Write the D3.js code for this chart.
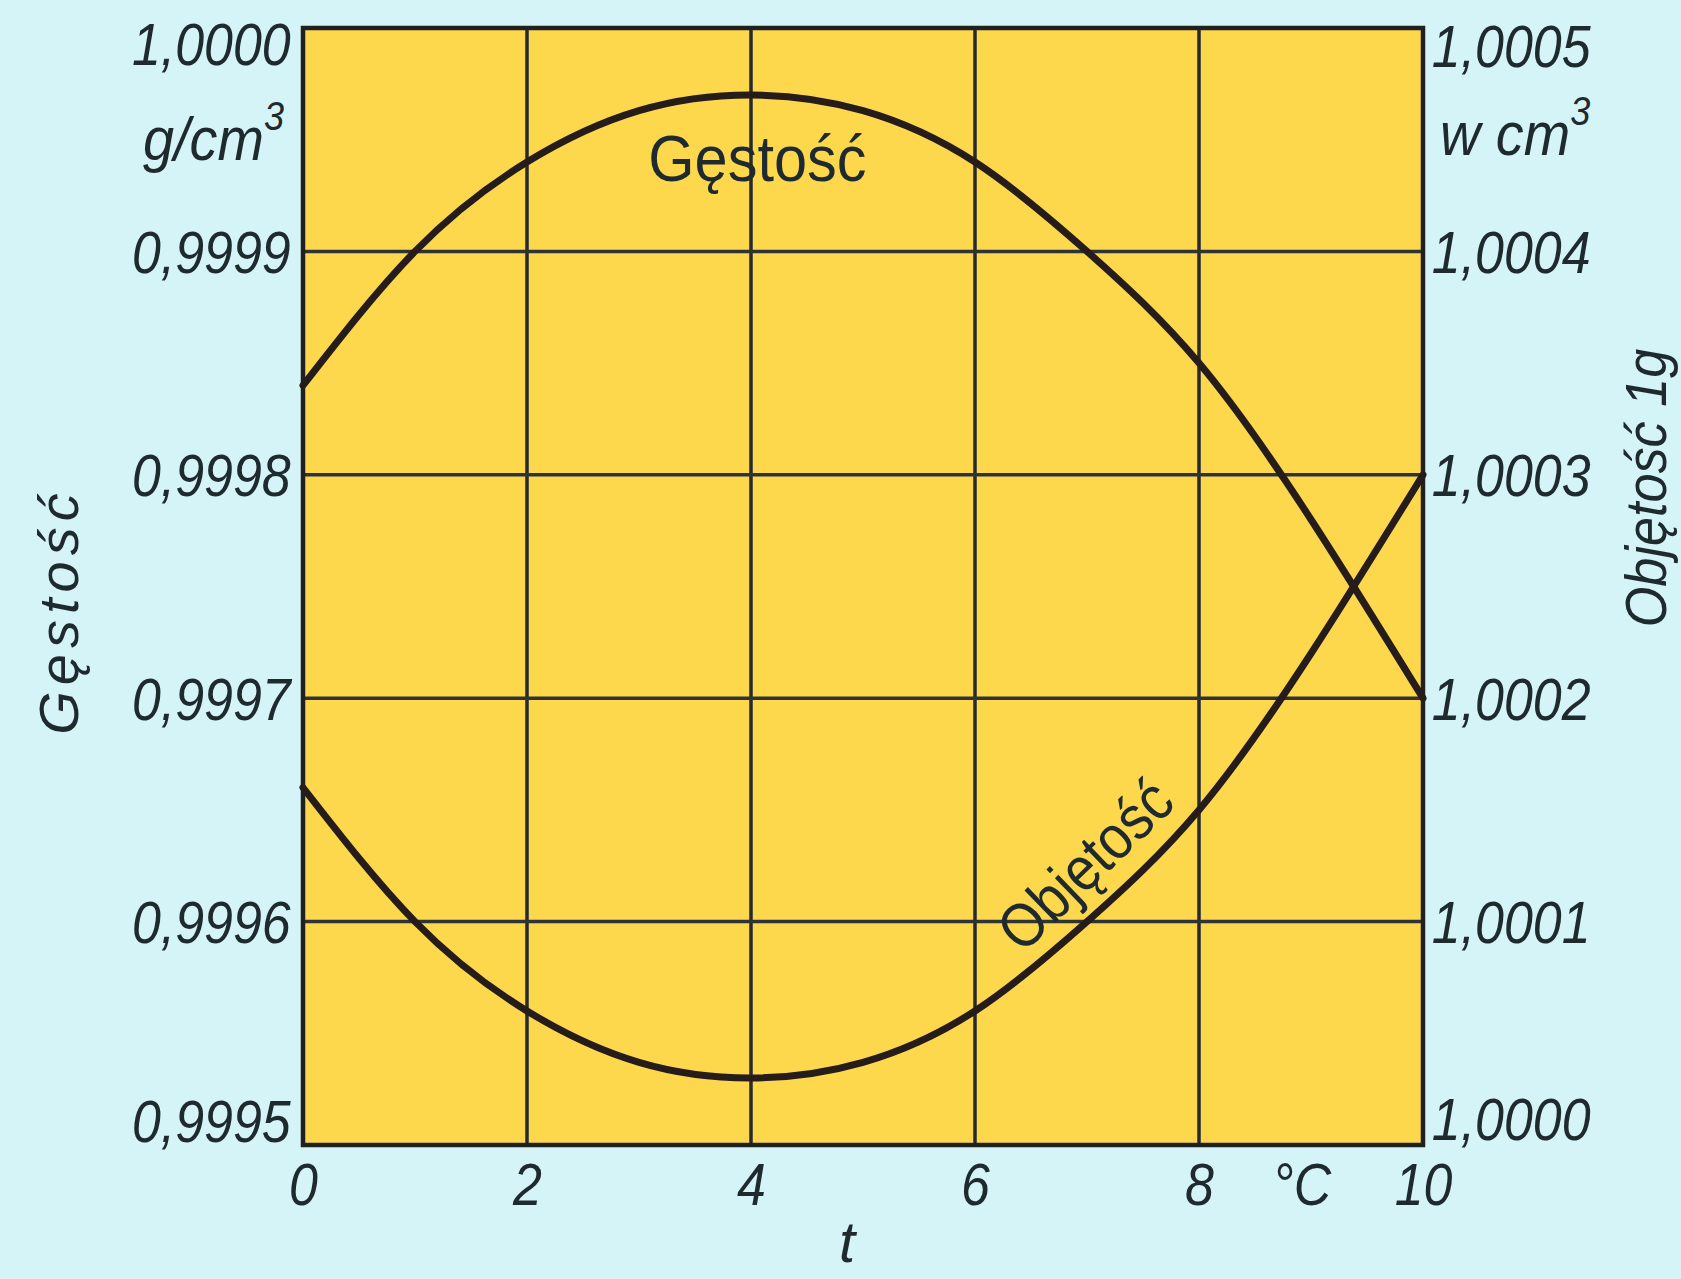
<!DOCTYPE html>
<html>
<head>
<meta charset="utf-8">
<script src="https://cdn.jsdelivr.net/npm/d3@7"></script>
<style>
  body { margin: 0; background: #d5f4f7; }
  svg text { font-family: "Liberation Sans", "DejaVu Sans", sans-serif; fill: #1f2a2e; }
</style>
</head>
<body>
<div id="chart"></div>
<script>
// temperatura, °C
const temps = [0, 1, 2, 3, 4, 5, 6, 7, 8, 9, 10];
// gęstość wody, g/cm3 (lewa oś)
const density = [0.99984, 0.99990, 0.99994, 0.999963, 0.99997, 0.999963, 0.99994, 0.99990, 0.99985, 0.99978, 0.99970];
// objętość 1 g wody, cm3 (prawa oś)
const volume = [1.00016, 1.00010, 1.00006, 1.000037, 1.00003, 1.000037, 1.00006, 1.00010, 1.00015, 1.00022, 1.00030];

const xTicks = [0, 2, 4, 6, 8, 10];
const leftTicks = [0.9995, 0.9996, 0.9997, 0.9998, 0.9999, 1.0000];
const rightTicks = [1.0000, 1.0001, 1.0002, 1.0003, 1.0004, 1.0005];

function chart() {
    const W = 1681, H = 1279;
    const plot = {l: 303, r: 1423, t: 28, b: 1145};
    const ink = "#1f2a2e";
    const curveInk = "#261c19";

    let svg = d3.select("#chart")
        .append("svg")
        .attr("width", W)
        .attr("height", H);

    svg.append("rect")
        .attr("width", W).attr("height", H)
        .attr("fill", "#d5f4f7");

    let x = d3.scaleLinear().domain([0, 10]).range([plot.l, plot.r]);
    let yL = d3.scaleLinear().domain([0.9995, 1.0]).range([plot.b, plot.t]);
    let yR = d3.scaleLinear().domain([1.0, 1.0005]).range([plot.b, plot.t]);

    //plot area
    svg.append("rect")
        .attr("x", plot.l).attr("y", plot.t)
        .attr("width", plot.r - plot.l).attr("height", plot.b - plot.t)
        .attr("fill", "#fdd84d");

    const comma = d => d3.format(".4f")(d).replace(".", ",");

    //grid (vertical)
    svg.append("g")
        .selectAll("line")
        .data(xTicks.slice(1, -1))
        .enter().append("line")
        .attr("x1", d => x(d)).attr("x2", d => x(d))
        .attr("y1", plot.t).attr("y2", plot.b)
        .attr("stroke", "#262a2e").attr("stroke-width", 3.5);

    //grid (horizontal)
    svg.append("g")
        .selectAll("line")
        .data(leftTicks.slice(1, -1))
        .enter().append("line")
        .attr("x1", plot.l).attr("x2", plot.r)
        .attr("y1", d => yL(d)).attr("y2", d => yL(d))
        .attr("stroke", "#2e3336").attr("stroke-width", 3.5);

    //frame
    svg.append("rect")
        .attr("x", plot.l).attr("y", plot.t)
        .attr("width", plot.r - plot.l).attr("height", plot.b - plot.t)
        .attr("fill", "none")
        .attr("stroke", "#202020").attr("stroke-width", 4.5);

    //axes: labels only
    let axisL = d3.axisLeft(yL).tickValues(leftTicks).tickFormat(comma).tickSize(0).tickPadding(14);
    let axisR = d3.axisRight(yR).tickValues(rightTicks).tickFormat(comma).tickSize(0).tickPadding(10);
    let axisB = d3.axisBottom(x).tickValues(xTicks).tickFormat(d3.format("d")).tickSize(0).tickPadding(18);

    function styleAxis(g, shift) {
        g.select(".domain").remove();
        g.selectAll("text")
            .attr("font-size", 59)
            .attr("font-style", "italic")
            .attr("fill", ink)
            .attr("font-family", "Liberation Sans, sans-serif")
            .attr("transform", d => `translate(0,${shift(d)}) scale(0.88,1)`);
    }

    svg.append("g")
        .attr("transform", `translate(${plot.l},0)`)
        .call(axisL)
        .call(g => styleAxis(g, d => d === 1.0 ? 18 : (d === 0.9995 ? -22 : 2)));

    svg.append("g")
        .attr("transform", `translate(${plot.r},0)`)
        .call(axisR)
        .call(g => styleAxis(g, d => d === 1.0005 ? 20 : (d === 1.0 ? -24 : 2)));

    svg.append("g")
        .attr("transform", `translate(0,${plot.b})`)
        .call(axisB)
        .call(g => styleAxis(g, d => 0));

    //units
    let unitL = svg.append("text")
        .attr("x", 284 / 0.9).attr("y", 160)
        .attr("text-anchor", "end")
        .attr("font-size", 62).attr("font-style", "italic")
        .attr("transform", "scale(0.9,1)");
    unitL.append("tspan").text("g/cm");
    unitL.append("tspan").attr("dy", -30).attr("font-size", 40).text("3");

    let unitR = svg.append("text")
        .attr("x", 1440 / 0.9).attr("y", 155)
        .attr("font-size", 62).attr("font-style", "italic")
        .attr("transform", "scale(0.9,1)");
    unitR.append("tspan").text("w cm");
    unitR.append("tspan").attr("dy", -30).attr("font-size", 40).text("3");

    svg.append("text")
        .attr("x", 1302 / 0.88).attr("y", plot.b + 18)
        .attr("dy", "0.71em")
        .attr("text-anchor", "middle")
        .attr("font-size", 59).attr("font-style", "italic")
        .attr("transform", "scale(0.88,1)")
        .text("°C");

    svg.append("text")
        .attr("x", 847).attr("y", 1262)
        .attr("text-anchor", "middle")
        .attr("font-size", 58).attr("font-style", "italic")
        .text("t");

    //axis titles
    svg.append("text")
        .attr("transform", "translate(78,611) rotate(-90)")
        .attr("text-anchor", "middle")
        .attr("font-size", 56).attr("font-style", "italic")
        .attr("letter-spacing", 6)
        .text("Gęstość");

    svg.append("text")
        .attr("transform", "translate(1666,488) rotate(-90) scale(0.9,1)")
        .attr("text-anchor", "middle")
        .attr("font-size", 58).attr("font-style", "italic")
        .text("Objętość 1g");

    //curves
    let lineL = d3.line()
        .x((d, i) => x(temps[i]))
        .y(d => yL(d))
        .curve(d3.curveNatural);
    let lineR = d3.line()
        .x((d, i) => x(temps[i]))
        .y(d => yR(d))
        .curve(d3.curveNatural);

    svg.append("path")
        .datum(density)
        .attr("d", lineL)
        .attr("fill", "none")
        .attr("stroke", curveInk).attr("stroke-width", 7)
        .attr("stroke-linecap", "round");

    svg.append("path")
        .datum(volume)
        .attr("d", lineR)
        .attr("fill", "none")
        .attr("stroke", curveInk).attr("stroke-width", 7)
        .attr("stroke-linecap", "round");

    //curve labels
    svg.append("text")
        .attr("transform", `translate(${x(4.2) - 16},${yL(0.99997) + 86}) scale(0.93,1)`)
        .attr("text-anchor", "middle")
        .attr("font-size", 64)
        .attr("fill", "#241a18")
        .text("Gęstość");

    svg.append("text")
        .attr("transform", `translate(1100,880) rotate(-44) scale(0.88,1)`)
        .attr("text-anchor", "middle")
        .attr("font-size", 62)
        .attr("fill", "#241a18")
        .text("Objętość");
}

chart();
</script>
</body>
</html>
